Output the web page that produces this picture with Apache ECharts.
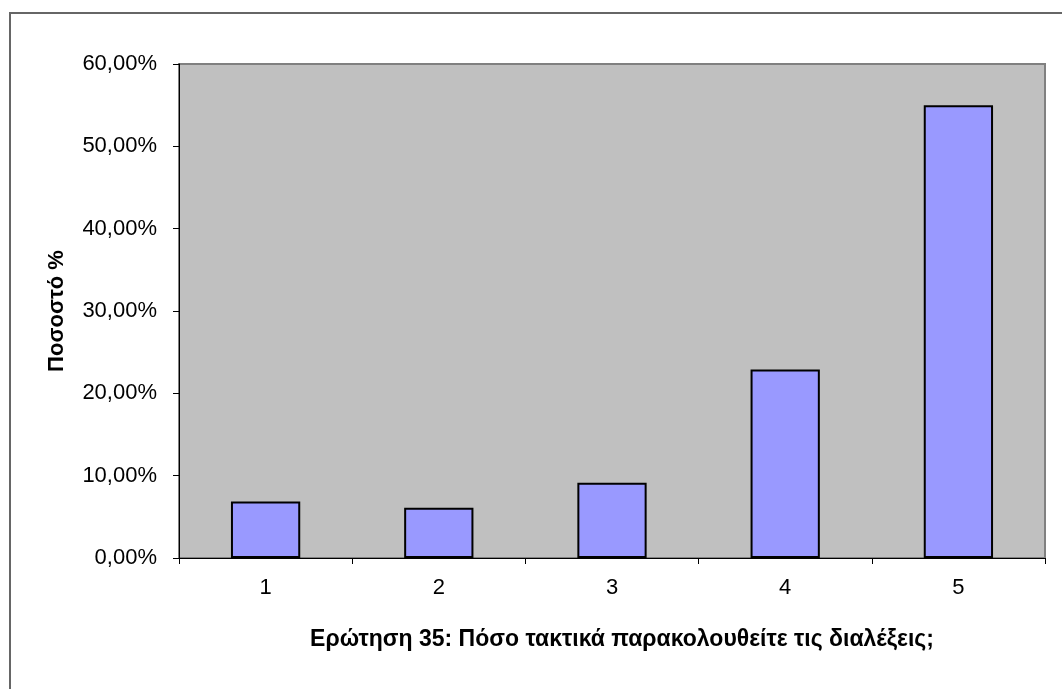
<!DOCTYPE html>
<html>
<head>
<meta charset="utf-8">
<script src="https://cdn.jsdelivr.net/npm/echarts@6/dist/echarts.min.js"></script>
<style>
html,body{margin:0;padding:0;background:#fff;}
#c{width:1062px;height:689px;}
</style>
</head>
<body>
<div id="c"></div>
<script>
const categories = ['1', '2', '3', '4', '5'];
const values = [6.85, 6.1, 9.15, 22.9, 55.0];
const yTitle = 'Ποσοστό %';
const xTitle = 'Ερώτηση 35: Πόσο τακτικά παρακολουθείτε τις διαλέξεις;';

const chart = echarts.init(document.getElementById('c'));
const font = 'Liberation Sans, Arial, sans-serif';
chart.setOption({
  animation: false,
  backgroundColor: '#ffffff',
  graphic: [
    {type: 'rect', shape: {x: 10, y: 13, width: 1080, height: 700}, style: {fill: 'none', stroke: '#666', lineWidth: 2}, silent: true},
    {type: 'text', x: 622, y: 640, style: {text: xTitle, fontSize: 23, fontWeight: 'bold', fontFamily: font, fill: '#000', align: 'center', verticalAlign: 'middle'}, z: 10},
  ],
  grid: {left: 179, right: 17, top: 64, bottom: 131, containLabel: false,
         show: true, backgroundColor: '#c0c0c0', borderColor: '#808080', borderWidth: 2},
  xAxis: {
    type: 'category', data: categories,
    axisLine: {show: true, lineStyle: {color: '#000', width: 1}},
    axisTick: {show: true, inside: false, length: 6, lineStyle: {color: '#000'}},
    axisLabel: {color: '#000', fontSize: 22, fontFamily: font, margin: 19},
    splitLine: {show: false}
  },
  yAxis: {
    type: 'value', min: 0, max: 60, interval: 10,
    name: yTitle, nameLocation: 'middle', nameGap: 111, nameRotate: 90,
    nameTextStyle: {color: '#000', fontSize: 22, fontWeight: 'bold', fontFamily: font},
    axisLine: {show: true, lineStyle: {color: '#000', width: 1}},
    axisTick: {show: true, inside: false, length: 6, lineStyle: {color: '#000'}},
    axisLabel: {color: '#000', fontSize: 22, fontFamily: font, margin: 22,
      formatter: v => v.toFixed(2).replace('.', ',') + '%'},
    splitLine: {show: false}
  },
  series: [{
    type: 'bar', data: values, barWidth: '40%',
    itemStyle: {color: '#9999ff', borderColor: '#000', borderWidth: 2}
  }]
});
</script>
</body>
</html>
